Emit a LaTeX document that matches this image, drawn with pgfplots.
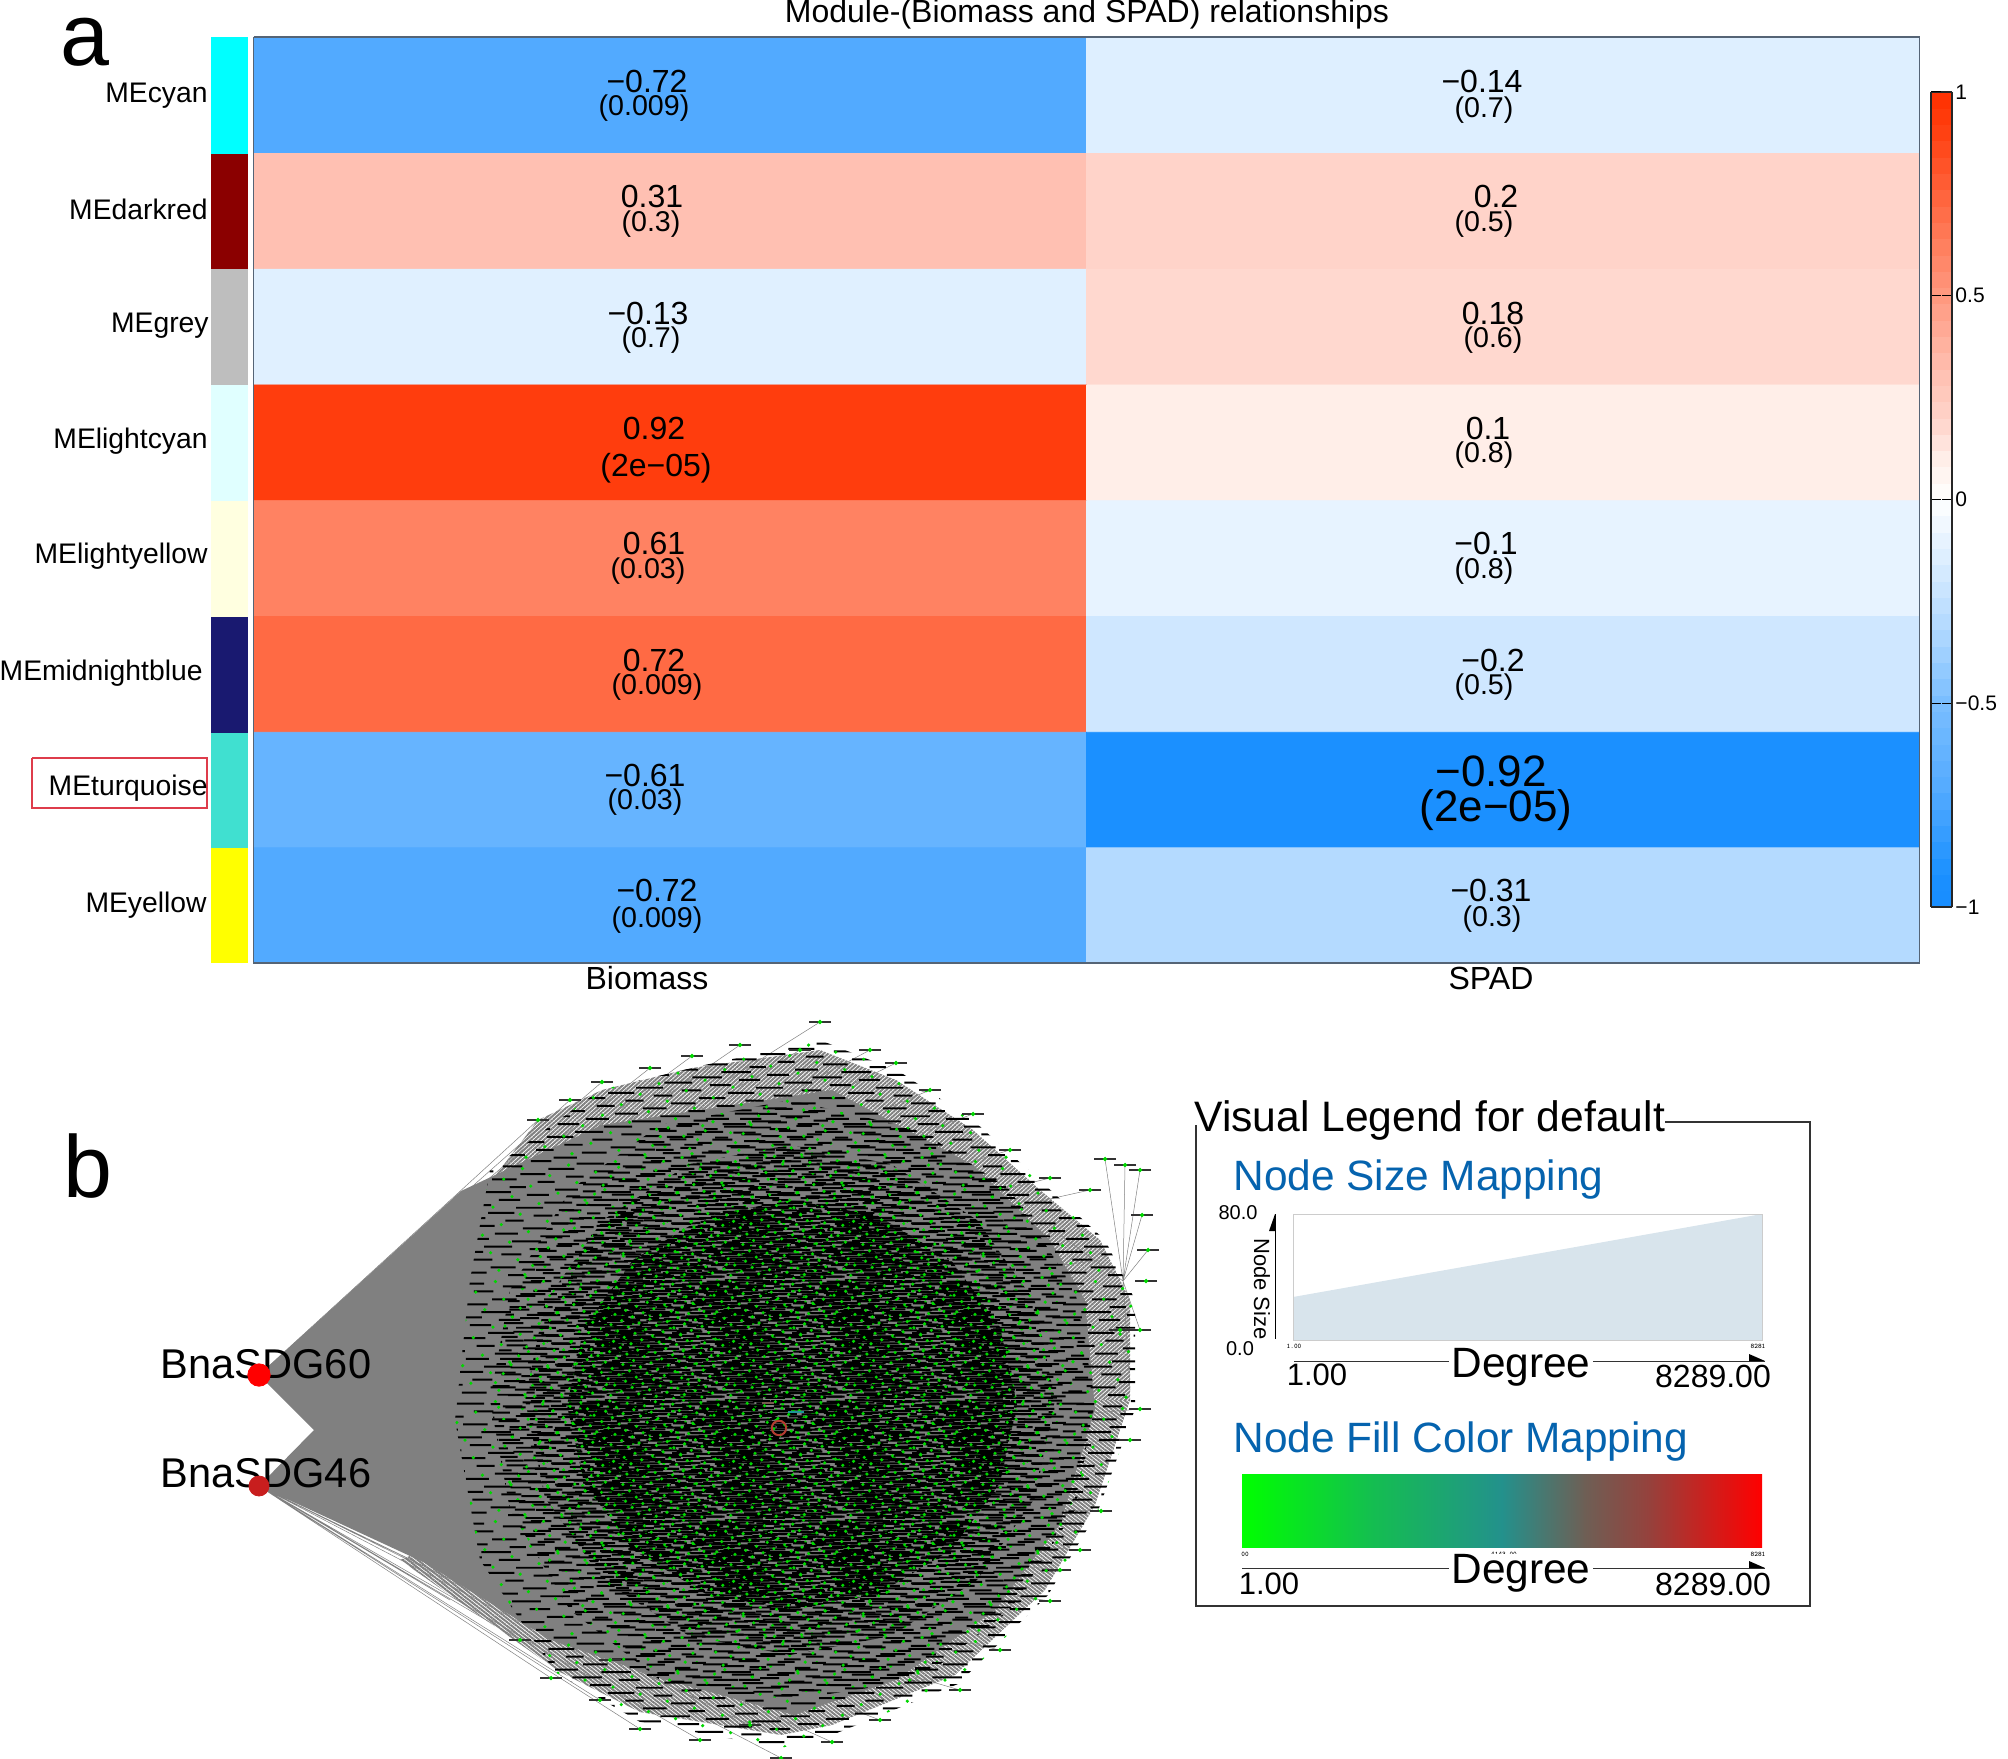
\documentclass[border=0pt]{standalone}
\usepackage{pgfplots}
\pgfplotsset{compat=1.18}
\usepackage{fontspec}
\setmainfont{Liberation Sans}
\usetikzlibrary{patterns,patterns.meta}
\newcommand{\fs}[1]{\fontsize{#1}{#1}\selectfont}
% fixed lattice textures for the illegible mass of gene labels and nodes
\newcommand{\dashlat}[5]{\pgfsetlinewidth{#3pt}%
  \foreach \i in {1,...,#1}{\pgfmathsetmacro\x{mod(\i*#2,60)}\pgfmathsetmacro\y{(\i-0.5)/#1*60}%
    \pgfmathsetmacro\l{#4+mod(\i*3.7,#5)}\pgfmathsetmacro\xx{\x+\l}\pgfmathsetmacro\xa{\x-60}\pgfmathsetmacro\xb{\xx-60}%
    \pgfpathmoveto{\pgfpoint{\x pt}{\y pt}}\pgfpathlineto{\pgfpoint{\xx pt}{\y pt}}%
    \pgfpathmoveto{\pgfpoint{\xa pt}{\y pt}}\pgfpathlineto{\pgfpoint{\xb pt}{\y pt}}\pgfusepath{stroke}}}
\newcommand{\dotlat}[3]{%
  \foreach \i in {1,...,#1}{\pgfmathsetmacro\x{mod(\i*#2,60)}\pgfmathsetmacro\y{(\i-0.5)/#1*60}%
    \pgfpathcircle{\pgfpoint{\x pt}{\y pt}}{#3pt}\pgfusepath{fill}}}
\newcommand{\tile}[2]{\pgfdeclarepatterninherentlycolored{#1}{\pgfqpoint{0pt}{0pt}}{\pgfqpoint{60pt}{60pt}}{\pgfqpoint{60pt}{60pt}}{#2}}
\definecolor{nodegreen}{RGB}{0,215,0}
\tile{netouter}{\pgfsetstrokecolor{black}\dashlat{46}{37.08}{1.0}{8}{7}\pgfsetfillcolor{nodegreen}\dotlat{34}{23.17}{0.9}}
\tile{netmidA}{\pgfsetstrokecolor{black}\dashlat{70}{22.92}{1.0}{6}{6}\pgfsetfillcolor{nodegreen}\dotlat{40}{41.3}{0.9}}
\tile{netmidB}{\pgfsetstrokecolor{black}\dashlat{120}{37.08}{1.0}{6}{6}\pgfsetfillcolor{nodegreen}\dotlat{70}{13.7}{0.9}}
\tile{netmidC}{\pgfsetstrokecolor{black}\dashlat{220}{22.92}{1.0}{6}{6}\pgfsetfillcolor{nodegreen}\dotlat{150}{37.08}{0.9}}
\tile{netinner}{\pgfsetfillcolor{black}\pgfpathrectangle{\pgfqpoint{0pt}{0pt}}{\pgfqpoint{60pt}{60pt}}\pgfusepath{fill}%
  \pgfsetstrokecolor{black!60}\dashlat{16}{23.17}{0.45}{3}{7}\pgfsetfillcolor{nodegreen}\dotlat{280}{37.08}{0.85}}
\definecolor{legblue}{RGB}{5,99,174}
\definecolor{legfill}{RGB}{216,228,236}
\definecolor{netgray}{RGB}{128,128,128}
\definecolor{heatedge}{RGB}{85,100,118}
\pgfplotstableread{
x y
538 1120
570 1100
602 1082
650 1068
692 1056
740 1045
820 1022
800 1050
870 1050
896 1063
930 1090
973 1114
1010 1150
1050 1178
1090 1190
1105 1159
1125 1165
1140 1170
1142 1215
1148 1250
1140 1330
1146 1281
1120 1330
551 1678
600 1700
640 1729
700 1740
750 1725
781 1758
832 1742
880 1720
960 1690
1000 1650
1050 1601
1080 1550
1101 1511
1130 1440
1140 1409
610 1660
520 1640
1060 1570
}\rimpts
\begin{document}
\begin{tikzpicture}
\begin{axis}[
  at={(0pt,0pt)}, anchor=south west,
  scale only axis, width=1004pt, height=879.5pt,
  xmin=0, xmax=2008, ymin=0, ymax=1759, y dir=reverse,
  hide axis, clip=false,
  colormap={bwr}{rgb255(0pt)=(24,142,255); rgb255(8pt)=(27,144,255); rgb255(28pt)=(82,170,255);
    rgb255(50pt)=(122,190,255); rgb255(69pt)=(180,218,255); rgb255(87pt)=(224,240,255);
    rgb255(100pt)=(255,255,255); rgb255(110pt)=(255,238,232); rgb255(120pt)=(255,211,201); rgb255(131pt)=(255,192,178);
    rgb255(161pt)=(255,130,98); rgb255(192pt)=(255,61,13); rgb255(200pt)=(255,48,0)},
  point meta min=-1, point meta max=1,
  colorbar sampled,
  colorbar style={
    samples=51,
    at={(parent axis.north west)}, anchor=north west, xshift=957pt, yshift=-46pt,
    width=10.5pt, height=407.5pt,
    ytick={-1,-0.5,0,0.5,1},
    yticklabels={−1,−0.5,0,0.5,1},
    yticklabel style={font=\fs{10.5}, inner sep=1.5pt},
    tick style={black, line width=0.5pt},
    major tick length=5pt,
    axis line style={black!85, line width=0.9pt},
  },
]
% ---------- panel a: heat map
\addplot[matrix plot*, mesh/cols=2, point meta=\thisrow{v}] table {
x y v
670 95.5 -0.72
1503 95.5 -0.14
670 211.5 0.31
1503 211.5 0.2
670 327 -0.13
1503 327 0.18
670 443 0.92
1503 443 0.1
670 558.5 0.61
1503 558.5 -0.1
670 674.5 0.72
1503 674.5 -0.2
670 790 -0.61
1503 790 -0.92
670 905.5 -0.72
1503 905.5 -0.31
};
\addplot[draw=heatedge, line width=0.6pt] coordinates {(253.5,37)(1919.5,37)(1919.5,963)(253.5,963)(253.5,37)};
% module colour strip
\addplot[fill={rgb,255:red,0;green,255;blue,255}, draw=none] coordinates {(211,37)(248,37)(248,154)(211,154)} --cycle;
\addplot[fill={rgb,255:red,139;green,0;blue,0}, draw=none] coordinates {(211,154)(248,154)(248,269.5)(211,269.5)} --cycle;
\addplot[fill={rgb,255:red,190;green,190;blue,190}, draw=none] coordinates {(211,269.5)(248,269.5)(248,385.2)(211,385.2)} --cycle;
\addplot[fill={rgb,255:red,224;green,255;blue,255}, draw=none] coordinates {(211,385.2)(248,385.2)(248,501)(211,501)} --cycle;
\addplot[fill={rgb,255:red,255;green,255;blue,224}, draw=none] coordinates {(211,501)(248,501)(248,616.7)(211,616.7)} --cycle;
\addplot[fill={rgb,255:red,25;green,25;blue,112}, draw=none] coordinates {(211,616.7)(248,616.7)(248,732.5)(211,732.5)} --cycle;
\addplot[fill={rgb,255:red,64;green,224;blue,208}, draw=none] coordinates {(211,732.5)(248,732.5)(248,848.2)(211,848.2)} --cycle;
\addplot[fill={rgb,255:red,255;green,255;blue,0}, draw=none] coordinates {(211,848.2)(248,848.2)(248,963)(211,963)} --cycle;
\addplot[draw={rgb,255:red,222;green,60;blue,75}, line width=0.6pt] coordinates {(32,758)(207,758)(207,808)(32,808)(32,758)};
% ---------- panel b: network
\addplot[draw=netgray, line width=0.25pt] coordinates {(259,1375)(538,1120)(259,1375)(570,1100)(259,1375)(602,1082)(259,1375)(650,1068)(259,1375)(692,1056)(259,1375)(740,1045)(259,1375)(820,1022)(259,1375)(800,1050)(259,1375)(870,1050)(259,1375)(896,1063)(259,1375)(930,1090)(259,1375)(973,1114)(259,1375)(1010,1150)(259,1375)(1050,1178)(259,1375)(1090,1190)(259,1375)(1100,1260)(259,1375)(1120,1330)};
\addplot[draw=netgray, line width=0.25pt] coordinates {(259,1486)(551,1678)(259,1486)(600,1700)(259,1486)(640,1729)(259,1486)(700,1740)(259,1486)(750,1725)(259,1486)(781,1758)(259,1486)(832,1742)(259,1486)(880,1720)(259,1486)(960,1690)(259,1486)(1000,1650)(259,1486)(1050,1601)(259,1486)(1080,1550)(259,1486)(1101,1511)(259,1486)(1130,1440)(259,1486)(1140,1409)(259,1486)(1000,1600)(259,1486)(700,1700)(259,1486)(610,1660)(259,1486)(520,1640)(259,1486)(450,1600)(259,1486)(1060,1570)};
\addplot[draw=netgray, line width=0.25pt] coordinates {(1123,1281)(1105,1159)(1123,1281)(1125,1165)(1123,1281)(1140,1170)(1123,1281)(1142,1215)(1123,1281)(1060,1235)(1123,1281)(1148,1250)(1123,1281)(1140,1330)(1123,1281)(1130,1390)};
% rim: diagonal edges showing white between them
\addplot[pattern={Lines[angle=42,distance=1.5pt,line width=1pt]}, pattern color=netgray, draw=none] coordinates {(538,1120)(602,1090)(692,1068)(820,1050)(896,1080)(973,1130)(1040,1190)(1100,1240)(1130,1300)(1130,1400)(790,1400)(400,1300)} --cycle;
\addplot[pattern={Lines[angle=-38,distance=1.5pt,line width=1pt]}, pattern color=netgray, draw=none] coordinates {(400,1560)(790,1400)(1130,1400)(1095,1505)(1045,1590)(955,1675)(832,1725)(781,1735)(640,1712)(560,1672)} --cycle;
% solid grey core
\addplot[fill=netgray, draw=none] coordinates {(259,1375)(461,1191)(602,1125)(832,1090)(973,1165)(1050,1240)(1085,1300)(1095,1409)(1060,1524)(995,1610)(896,1680)(794,1715)(666,1680)(551,1640)(423,1562)(259,1486)(314,1430)} --cycle;
% outer band of gene labels
\addplot[pattern=netouter, draw=none] coordinates {(470,1280)(490,1170)(600,1090)(700,1066)(820,1040)(900,1072)(975,1122)(1045,1185)(1105,1240)(1135,1300)(1135,1409)(1098,1511)(1048,1595)(958,1684)(832,1735)(781,1748)(640,1722)(555,1672)(480,1560)(455,1420)} --cycle;
% dense zones, darker towards the centre
\addplot[pattern=netmidA, draw=none] coordinates {(1095,1400)(1075,1290)(1010,1190)(920,1130)(790,1100)(660,1125)(570,1190)(510,1290)(490,1400)(510,1510)(570,1610)(660,1680)(790,1700)(920,1680)(1010,1610)(1075,1510)} --cycle;
\addplot[pattern=netmidB, draw=none] coordinates {(1055,1400)(1035,1498)(977,1580)(891,1636)(790,1655)(689,1636)(603,1580)(545,1498)(525,1400)(545,1302)(603,1220)(689,1164)(790,1145)(891,1164)(977,1220)(1035,1302)} --cycle;
\addplot[pattern=netmidC, draw=none] coordinates {(1017,1405)(1000,1483)(951,1550)(878,1594)(792,1610)(706,1594)(633,1550)(584,1483)(567,1405)(584,1327)(633,1260)(706,1216)(792,1200)(878,1216)(951,1260)(1000,1327)} --cycle;
\addplot[pattern=netinner, draw=none] coordinates {(982,1408)(968,1471)(926,1525)(865,1560)(792,1573)(719,1560)(658,1525)(616,1471)(602,1408)(616,1345)(658,1291)(719,1256)(792,1243)(865,1256)(926,1291)(968,1345)} --cycle;
% rim nodes with their labels
\addplot[only marks, mark=-, mark size=5.5pt, mark options={draw=black!80, line width=0.7pt}] table {\rimpts};
\addplot[only marks, mark=*, mark size=0.85pt, mark options={draw=nodegreen, fill=nodegreen}] table {\rimpts};
% hubs and centre nodes
\addplot[only marks, mark=*, mark size=5.6pt, mark options={draw=red, fill=red}] coordinates {(259,1375)};
\addplot[only marks, mark=*, mark size=5pt, mark options={draw={rgb,255:red,200;green,30;blue,30}, fill={rgb,255:red,200;green,30;blue,30}}] coordinates {(259,1486)};
\addplot[only marks, mark=o, mark size=3.6pt, mark options={draw={rgb,255:red,180;green,60;blue,50}, line width=1pt}] coordinates {(779,1428)};
\addplot[only marks, mark=-, mark size=4pt, mark options={draw={rgb,255:red,30;green,150;blue,150}, line width=1.2pt}] coordinates {(796,1412)};
\addplot[only marks, mark=-, mark size=3pt, mark options={draw={rgb,255:red,120;green,90;blue,80}, line width=1pt}] coordinates {(768,1403)};
% ---------- legend box
\addplot[draw=black!80, line width=0.6pt] coordinates {(1665,1122)(1810,1122)(1810,1606)(1196,1606)(1196,1125)};
\addplot[fill=legfill, draw=none] coordinates {(1293,1340)(1293,1297)(1762,1214)(1762,1340)} --cycle;
\addplot[draw=black!20, line width=0.5pt] coordinates {(1293,1214)(1762,1214)(1762,1340)(1293,1340)(1293,1214)};
\addplot[draw=black, line width=0.4pt] coordinates {(1275,1214)(1275,1339)};
\addplot[fill=black, draw=none] coordinates {(1275,1214)(1275,1231)(1269,1231)} --cycle;
\addplot[draw=black!80, line width=0.5pt] coordinates {(1294,1361)(1765,1361)};
\addplot[fill=black, draw=none] coordinates {(1749,1354)(1765,1361)(1749,1361)} --cycle;
\addplot[draw=black!80, line width=0.5pt] coordinates {(1242,1568)(1765,1568)};
\addplot[fill=black, draw=none] coordinates {(1749,1561)(1765,1568)(1749,1568)} --cycle;
% gradient bar
\addplot[left color={rgb,255:red,0;green,255;blue,0}, right color={rgb,255:red,20;green,190;blue,80}, draw=none] coordinates {(1242,1474)(1372,1474)(1372,1547)(1242,1547)} --cycle;
\addplot[left color={rgb,255:red,20;green,190;blue,80}, right color={rgb,255:red,35;green,145;blue,140}, draw=none] coordinates {(1371.5,1474)(1502,1474)(1502,1547)(1371.5,1547)} --cycle;
\addplot[left color={rgb,255:red,35;green,145;blue,140}, right color={rgb,255:red,110;green,95;blue,85}, draw=none] coordinates {(1501.5,1474)(1585,1474)(1585,1547)(1501.5,1547)} --cycle;
\addplot[left color={rgb,255:red,110;green,95;blue,85}, right color={rgb,255:red,150;green,65;blue,60}, draw=none] coordinates {(1584.5,1474)(1650,1474)(1650,1547)(1584.5,1547)} --cycle;
\addplot[left color={rgb,255:red,150;green,65;blue,60}, right color={rgb,255:red,255;green,0;blue,0}, draw=none] coordinates {(1649.5,1474)(1762,1474)(1762,1547)(1649.5,1547)} --cycle;
% ---------- text
\tikzset{t/.style={inner sep=0pt, anchor=center},
  v/.style={t, font=\fs{16}, yshift=0.5pt},
  p/.style={t, font=\fs{14.3}, yshift=-1.25pt},
  r/.style={inner sep=0pt, anchor=east, font=\fs{14.15}, yshift=-1.25pt},
  l/.style={inner sep=0pt, anchor=base west}}
\node[l, font=\fs{44}] at (60,66) {a};
\node[l, font=\fs{44}] at (63,1197) {b};
\node[t, font=\fs{16}, yshift=-0.5pt] at (1087,13) {Module-(Biomass and SPAD) relationships};
\node[t, font=\fs{16}] at (647,978) {Biomass};
\node[t, font=\fs{16}] at (1491,978) {SPAD};
\node[r] at (208,93) {MEcyan};
\node[r] at (208,207) {MEdarkred};
\node[r] at (209,323) {MEgrey};
\node[r] at (208,439) {MElightcyan};
\node[r] at (208,554) {MElightyellow};
\node[r] at (203,671) {MEmidnightblue};
\node[r] at (208,786) {MEturquoise};
\node[r] at (207,903) {MEyellow};
% column 1
\node[v] at (647,82) {−0.72};
\node[p] at (644,106) {(0.009)};
\node[v] at (652,197) {0.31};
\node[p] at (651,222) {(0.3)};
\node[v] at (648,314) {−0.13};
\node[p] at (651,338) {(0.7)};
\node[v] at (654,429) {0.92};
\node[t, font=\fs{16}, yshift=-1pt] at (656,466) {(2e−05)};
\node[v] at (654,544) {0.61};
\node[p] at (648,569) {(0.03)};
\node[v] at (654,661) {0.72};
\node[p] at (657,685) {(0.009)};
\node[v] at (645,776) {−0.61};
\node[p] at (645,800) {(0.03)};
\node[v] at (657,891) {−0.72};
\node[p] at (657,918) {(0.009)};
% column 2
\node[v] at (1482,82) {−0.14};
\node[p] at (1484,108) {(0.7)};
\node[v] at (1496,197) {0.2};
\node[p] at (1484,222) {(0.5)};
\node[v] at (1493,314) {0.18};
\node[p] at (1493,338) {(0.6)};
\node[v] at (1488,429) {0.1};
\node[p] at (1484,453) {(0.8)};
\node[v] at (1486,544) {−0.1};
\node[p] at (1484,569) {(0.8)};
\node[v] at (1493,661) {−0.2};
\node[p] at (1484,685) {(0.5)};
\node[t, font=\fs{22}] at (1491,771) {−0.92};
\node[t, font=\fs{22}, yshift=-1.5pt] at (1496,807) {(2e−05)};
\node[v] at (1491,891) {−0.31};
\node[p] at (1492,917) {(0.3)};
% network labels
\node[t, font=\fs{20.8}] at (266,1364) {BnaSDG60};
\node[t, font=\fs{20.8}] at (266,1473) {BnaSDG46};
% legend labels
\node[t, font=\fs{21.3}, anchor=west, yshift=-1.25pt] at (1194,1118) {Visual Legend for default};
\node[t, font=\fs{21.2}, anchor=west, text=legblue, yshift=-1.5pt] at (1233,1177) {Node Size Mapping};
\node[t, font=\fs{21.2}, anchor=west, text=legblue, yshift=-1.5pt] at (1233,1439) {Node Fill Color Mapping};
\node[t, font=\fs{10}] at (1238,1213) {80.0};
\node[t, font=\fs{10}] at (1240,1349) {0.0};
\node[t, font=\fs{11}, rotate=-90] at (1262,1289) {Node Size};
\node[t, font=\bfseries\ttfamily\fs{3.5}] at (1294,1346) {1.00};
\node[t, font=\bfseries\ttfamily\fs{3.5}] at (1758,1346) {8281};
\node[t, font=\bfseries\ttfamily\fs{3.5}] at (1245,1554) {00};
\node[t, font=\bfseries\ttfamily\fs{3.5}] at (1504,1554) {4143.00};
\node[t, font=\bfseries\ttfamily\fs{3.5}] at (1758,1554) {8281};
\node[t, font=\fs{21.2}, fill=white, inner xsep=1pt, inner ysep=0pt, yshift=-1.5pt] at (1521,1364) {Degree};
\node[t, font=\fs{21.2}, fill=white, inner xsep=1pt, inner ysep=0pt, yshift=-1.5pt] at (1521,1570) {Degree};
\node[t, font=\fs{15.5}] at (1317,1375) {1.00};
\node[t, font=\fs{16}] at (1713,1376) {8289.00};
\node[t, font=\fs{15.5}] at (1269,1584) {1.00};
\node[t, font=\fs{16}] at (1713,1584) {8289.00};
\end{axis}
\pgfresetboundingbox
\useasboundingbox (0,0) rectangle (1004pt,879.5pt);
\end{tikzpicture}
\end{document}
